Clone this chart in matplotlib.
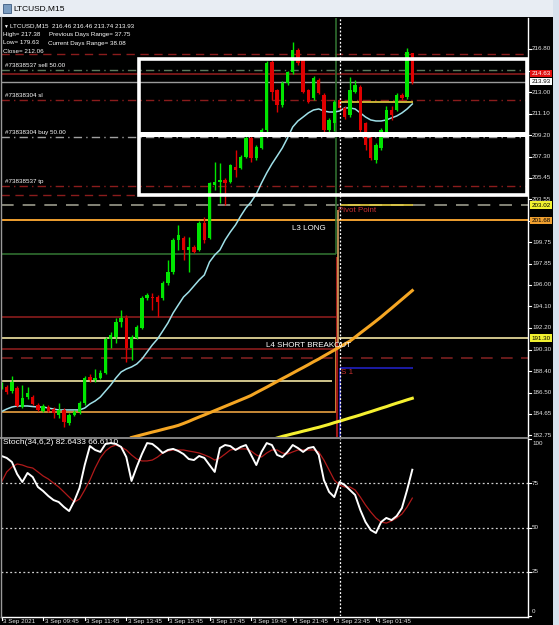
import matplotlib
matplotlib.use("Agg")
import matplotlib.pyplot as plt
from matplotlib.transforms import blended_transform_factory
from matplotlib.patches import Rectangle
from matplotlib.lines import Line2D

W, H, DPI = 559, 625, 100
FONT = "Liberation Sans"
plt.rcParams['font.family'] = [FONT, 'DejaVu Sans']

# ---------------- data ----------------
symbol = "LTCUSD,M15"
header_ohlc = ["216.46", "216.46", "213.74", "213.93"]
info_lines = ["High= 217.38", "Low= 179.63", "Close= 212.06"]
info_right = ["Previous Days Range= 37.75", "Current Days Range= 38.08"]

opens = [186.95, 186.99, 186.60, 186.91, 185.23, 186.11, 186.11, 185.41, 184.88, 185.23,
         185.05, 184.52, 184.97, 183.82, 184.52, 184.79, 185.58, 187.88, 187.61, 187.79,
         188.23, 191.23, 191.40, 192.73, 193.08, 190.43, 191.31, 192.20, 194.84, 194.93,
         194.93, 194.84, 196.17, 197.14, 199.96, 200.13, 199.08, 199.34, 199.08, 201.46,
         200.13, 204.81, 205.07, 205.25, 205.07, 206.39, 206.31, 207.28, 208.95, 207.19,
         208.07, 209.66, 215.65, 213.18, 211.86, 213.80, 214.77, 216.71, 215.83, 213.18,
         212.48, 214.07, 212.74, 209.66, 210.27, 212.30, 211.60, 210.98, 213.01, 213.45,
         210.27, 208.95, 207.01, 208.07, 209.48, 211.42, 211.42, 212.74, 212.57, 216.46]
highs = [187.45, 187.20, 187.95, 187.10, 187.17, 186.99, 186.30, 185.60, 185.50, 185.40,
         185.20, 185.60, 185.10, 184.70, 184.95, 185.75, 187.95, 188.10, 188.58, 188.50,
         191.40, 191.85, 193.08, 193.80, 193.30, 191.60, 192.50, 195.00, 195.30, 195.30,
         195.10, 196.30, 198.19, 200.10, 201.30, 200.30, 200.22, 199.50, 201.60, 202.00,
         205.10, 206.84, 206.75, 205.40, 206.70, 207.90, 207.45, 209.10, 209.10, 208.30,
         209.80, 215.70, 215.80, 213.30, 213.95, 214.90, 217.38, 216.85, 215.90, 213.30,
         214.40, 214.20, 212.90, 210.70, 212.30, 212.45, 211.75, 214.33, 214.07, 213.60,
         210.40, 209.10, 208.50, 209.80, 211.80, 211.80, 212.90, 212.90, 216.89, 216.46]
lows = [186.80, 186.40, 186.50, 185.20, 185.10, 185.90, 185.40, 184.85, 184.75, 184.80,
        184.26, 184.30, 183.47, 183.64, 184.40, 184.65, 185.45, 187.45, 187.43, 187.70,
        188.10, 190.43, 190.90, 192.29, 189.20, 189.35, 191.20, 192.10, 194.70, 193.80,
        193.17, 194.70, 195.95, 197.00, 199.10, 198.19, 197.14, 198.80, 198.95, 199.70,
        200.00, 204.40, 203.20, 203.04, 204.95, 205.50, 206.20, 207.15, 206.84, 207.05,
        207.95, 209.50, 212.30, 211.24, 211.70, 213.65, 214.60, 215.40, 212.90, 212.00,
        212.30, 212.80, 209.50, 209.50, 209.60, 211.45, 210.65, 210.80, 212.90, 209.50,
        207.90, 207.00, 206.75, 207.90, 209.30, 210.54, 211.30, 212.30, 212.40, 213.74]
closes = [187.25, 186.55, 187.43, 185.32, 186.02, 186.46, 185.50, 184.97, 185.32, 184.88,
          184.70, 184.97, 183.91, 184.52, 184.79, 185.58, 187.79, 187.61, 187.79, 188.23,
          191.23, 191.58, 192.73, 193.08, 190.43, 191.40, 192.29, 194.84, 195.11, 194.84,
          194.49, 196.17, 197.14, 199.96, 200.40, 199.08, 199.34, 198.90, 201.46, 199.96,
          204.98, 205.07, 205.25, 204.98, 206.57, 206.13, 207.28, 208.95, 207.19, 208.16,
          209.66, 215.57, 213.01, 211.86, 213.80, 214.77, 216.71, 215.57, 213.01, 212.13,
          214.24, 212.92, 209.66, 210.54, 212.13, 211.60, 210.80, 213.18, 213.63, 209.66,
          208.33, 207.19, 208.33, 209.66, 211.42, 210.98, 212.74, 212.48, 216.54, 213.93]

ma_fast = [184.83, 185.05, 185.23, 185.32, 185.32, 185.32, 185.27, 185.23, 185.23, 185.14,
           185.05, 184.97, 184.97, 184.97, 184.97, 184.97, 185.14, 185.50, 185.76, 186.11,
           186.64, 187.17, 187.79, 188.32, 188.58, 188.76, 189.02, 189.46, 190.08, 190.70,
           191.23, 191.93, 192.64, 193.52, 194.23, 194.93, 195.37, 195.90, 196.43, 196.87,
           198.02, 198.63, 199.08, 199.96, 200.66, 201.28, 202.07, 202.78, 203.31, 204.01,
           204.98, 205.87, 206.66, 207.36, 208.07, 208.95, 209.92, 210.45, 210.80, 211.16,
           211.42, 211.51, 211.33, 211.24, 211.24, 211.33, 211.60, 211.60, 211.51, 211.16,
           210.80, 210.54, 210.45, 210.45, 210.54, 210.72, 210.89, 211.16, 211.51, 211.95]
ma_mid_start = 25
ma_mid = [182.54, 182.66, 182.78, 182.90, 183.02, 183.13, 183.25, 183.37, 183.48, 183.61,
          183.78, 183.96, 184.16, 184.35, 184.53, 184.72, 184.91, 185.10, 185.29, 185.48,
          185.67, 185.86, 186.05, 186.25, 186.50, 186.74, 186.98, 187.23, 187.48, 187.73,
          187.97, 188.22, 188.47, 188.71, 188.96, 189.22, 189.46, 189.73, 189.99, 190.25,
          190.51, 190.78, 191.04, 191.39, 191.75, 192.10, 192.45, 192.81, 193.17, 193.56,
          193.94, 194.33, 194.72, 195.11, 195.50]
ma_slow_start = 53
ma_slow = [182.50, 182.64, 182.75, 182.87, 182.98, 183.10, 183.21, 183.33, 183.44, 183.57,
           183.70, 183.85, 183.98, 184.12, 184.26, 184.39, 184.53, 184.68, 184.82, 184.97,
           185.12, 185.26, 185.42, 185.57, 185.71, 185.86, 186.00]

stoch_main = [90.4, 89.3, 87.0, 80.2, 75.7, 80.8, 78.5, 72.9, 70.6, 67.8,
              65.5, 64.4, 61.6, 59.3, 65.0, 72.3, 85.3, 96.0, 93.8, 92.7,
              97.2, 97.7, 97.2, 95.5, 89.8, 76.3, 84.2, 91.5, 97.7, 97.2,
              94.9, 92.1, 93.8, 94.4, 93.2, 91.5, 88.7, 88.1, 90.4, 89.3,
              85.3, 81.4, 94.9, 96.6, 96.0, 93.8, 95.5, 96.6, 91.0, 85.3,
              92.7, 97.7, 96.6, 91.0, 89.8, 92.7, 96.6, 94.9, 92.7, 94.9,
              95.5, 91.0, 76.8, 70.1, 67.2, 75.7, 74.0, 71.2, 68.4, 59.9,
              53.1, 48.6, 46.9, 53.1, 55.4, 54.2, 56.5, 61.0, 71.2, 82.64]
stoch_signal = [75.7, 81.4, 84.2, 85.9, 85.3, 84.2, 83.6, 81.4, 79.1, 77.4,
                75.1, 72.9, 70.1, 67.2, 64.4, 66.1, 71.2, 76.8, 83.6, 89.3,
                93.2, 95.5, 96.6, 95.5, 93.8, 91.0, 88.7, 87.6, 87.6, 88.1,
                89.8, 92.1, 93.2, 93.8, 93.8, 93.8, 93.2, 92.7, 92.1, 91.0,
                89.8, 88.1, 89.3, 91.5, 93.8, 94.4, 94.4, 94.4, 93.2, 91.0,
                89.8, 92.1, 93.8, 93.8, 92.1, 91.5, 92.7, 93.8, 93.8, 93.8,
                93.8, 92.7, 88.1, 82.5, 76.8, 74.0, 72.9, 72.9, 71.2, 67.2,
                62.7, 58.8, 55.4, 53.1, 52.5, 53.7, 55.4, 57.6, 61.6, 66.61]
stoch_label = "Stoch(34,6,2) 82.6433 66.6110"

time_ticks = [0, 8, 16, 24, 32, 40, 48, 56, 64, 72]
time_labels = ["3 Sep 2021", "3 Sep 09:45", "3 Sep 11:45", "3 Sep 13:45", "3 Sep 15:45",
               "3 Sep 17:45", "3 Sep 19:45", "3 Sep 21:45", "3 Sep 23:45", "4 Sep 01:45"]
day_sep_bar = 65

price_ticks = [216.80, 214.90, 213.00, 211.10, 209.20, 207.30, 205.45, 203.55, 201.65,
               199.75, 197.85, 196.00, 194.10, 192.20, 190.30, 188.40, 186.50, 184.65, 182.75]
hidden_ticks = [214.90, 201.65]
stoch_levels = [25, 50, 75]
stoch_ticks = [100, 75, 50, 25, 0]

# horizontal levels (price)
sell_price, sell_label = 214.95, "#73838537 sell 50.00"
sl_price, sl_label = 212.30, "#73838304 sl"
buy_price, buy_label = 209.04, "#73838304 buy 50.00"
tp_price, tp_label = 204.72, "#73838537 tp"
ask_price, bid_price = 214.63, 213.93
sl2_price, tp2_price = 216.36, 203.93
pivot_gray = 203.02
l3_price = 201.68
green_box_bottom = 198.72
red_lvl_1, red_lvl_2, red_dash = 193.17, 190.35, 189.55
l4_price = 191.30
yellow_lvl = 187.52
orange_box_bottom = 184.79
pivot_price, r1_price, s1_price = 203.08, 212.15, 188.67
box_top, box_mid, box_bottom = 215.92, 209.30, 203.93

# ---------------- figure ----------------
fig = plt.figure(figsize=(W / DPI, H / DPI), dpi=DPI, facecolor="black")


def px_axes(x0, y0, x1, y1, z=0):
    a = fig.add_axes([x0 / W, 1 - y1 / H, (x1 - x0) / W, (y1 - y0) / H], zorder=z)
    a.set_facecolor("black")
    for s in a.spines.values():
        s.set_visible(False)
    a.set_xticks([])
    a.set_yticks([])
    return a


XL = (-0.1, 101.25)
ax = px_axes(1, 18, 528, 437)
ax.set_xlim(*XL)
ax.set_ylim(182.585, 219.53)

bull, bear = "#00e600", "#e00000"

# levels
dr = "#8a1c1c"
ax.axhline(sl2_price, color=dr, lw=1, ls=(0, (6, 4)))
ax.axhline(sell_price, color="#5d7a5d", lw=1, ls=(0, (6, 3, 1, 3)))
ax.axhline(ask_price, color=dr, lw=1.2)
ax.axhline(bid_price, color="#9a9a9a", lw=1)
ax.axhline(sl_price, color=dr, lw=1, ls=(0, (6, 3, 1, 3)))
ax.axhline(buy_price, color="#a0a0a0", lw=1, ls=(0, (6, 3, 1, 3)))
ax.axhline(tp_price, color=dr, lw=1, ls=(0, (6, 3, 1, 3)))
ax.axhline(tp2_price, color=dr, lw=1, ls=(0, (6, 4)))
ax.axhline(pivot_gray, color="#8e8e80", lw=1.3, ls=(0, (7, 5)))
ax.axhline(l3_price, color="#f0a030", lw=1.4)
ax.hlines(green_box_bottom, XL[0], 64.3, color="#2f6e2f", lw=1.2)
ax.vlines(64.3, green_box_bottom, 219.6, color="#2f6e2f", lw=1.2)
ax.hlines(red_lvl_1, XL[0], 64.5, color=dr, lw=1.2)
ax.axhline(l4_price, color="#f3e6a4", lw=1.2)
ax.hlines(red_lvl_2, XL[0], 64.3, color=dr, lw=1.2)
ax.axhline(red_dash, color="#7a2020", lw=1.2, ls=(0, (7, 5)))
ax.hlines(yellow_lvl, XL[0], 63.5, color="#f3e6a4", lw=1.2)
ax.hlines(orange_box_bottom, XL[0], 64.3, color="#e8a040", lw=1.2)
ax.vlines(64.3, orange_box_bottom, l4_price, color="#e8a040", lw=1.2)
ax.vlines(64.5, 182.585, 198.5, color="#a01818", lw=1.5)
ax.vlines(64.8, l4_price - 0.3, pivot_price - 0.5, color="#d4a060", lw=1.2)
ax.hlines(pivot_price, 65, 79.2, color="#e8d040", lw=1.2)
ax.hlines(r1_price, 65, 79.2, color="#e8d040", lw=1.2)
ax.hlines(s1_price, 65, 79.2, color="#2020c0", lw=1.2)
ax.vlines(65, 182.585, s1_price, color="#2020c0", lw=1.2)

# moving averages
ax.plot(range(ma_mid_start, ma_mid_start + len(ma_mid)), ma_mid, color="#f5a623", lw=2.2)
ax.plot(range(ma_slow_start, ma_slow_start + len(ma_slow)), ma_slow, color="#f5f030", lw=2.2)
ax.plot(range(len(ma_fast)), ma_fast, color="#9fe0e8", lw=1.1, zorder=4)

# candles
for i, (o, h, l, c) in enumerate(zip(opens, highs, lows, closes)):
    col = bull if c >= o else bear
    ax.vlines(i, l, h, color=col, lw=1, zorder=5)
    ax.bar(i, max(abs(c - o), 0.06), bottom=min(o, c), width=0.64, color=col, lw=0, zorder=5)

# white rectangle
ax.add_patch(Rectangle((26.4, box_bottom), 101.15 - 26.4, box_top - box_bottom, fill=False,
                       ec="white", lw=2.6, zorder=6))
ax.hlines(box_mid, 26.4, 101.15, color="white", lw=3.6, zorder=6)

# day separator
ax.axvline(day_sep_bar, color="white", lw=0.9, ls=(0, (1.5, 1.5)), zorder=7)

# texts inside main chart
tsz = 4.5
bsz = 5.8
ax.text(64.7, 202.55, "Pivot Point", color="#c83030", fontsize=bsz, va="center", zorder=8)
ax.text(55.9, 200.99, "L3 LONG", color="white", fontsize=bsz, va="center", zorder=8)
ax.text(50.8, 190.62, "L4 SHORT BREAKOUT", color="white", fontsize=bsz, va="center", zorder=8)
ax.text(65.3, 188.23, "S 1", color="#c83030", fontsize=bsz, va="center", zorder=8)
for pr, lab in [(sell_price, sell_label), (sl_price, sl_label), (buy_price, buy_label), (tp_price, tp_label)]:
    ax.text(0.7, pr + 0.38, lab, color="white", fontsize=tsz, va="center", zorder=8)

# ---------------- stochastic ----------------
sx = px_axes(1, 439, 528, 616)
sx.set_xlim(*XL)
sx.set_ylim(0, 100)
for lv in stoch_levels:
    sx.axhline(lv, color="#d0d0d0", lw=0.9, ls=(0, (1.5, 2)))
sx.axvline(day_sep_bar, color="white", lw=0.9, ls=(0, (1.5, 1.5)))
sx.plot(range(len(stoch_signal)), stoch_signal, color="#b01a1a", lw=0.9)
sx.plot(range(len(stoch_main)), stoch_main, color="white", lw=1.4)

# ---------------- overlay chrome ----------------
ov = fig.add_axes([0, 0, 1, 1], zorder=10)
ov.set_xlim(0, W)
ov.set_ylim(H, 0)
ov.axis("off")
ov.patch.set_alpha(0)

ov.add_patch(Rectangle((0, 0), W, 17, color="#e8edf3", lw=0))
ov.add_patch(Rectangle((3, 4), 8, 9, fc="#7a9cc0", ec="#3c5a80", lw=0.6))
ov.text(13, 9, symbol, color="black", fontsize=6.0, va="center")
ov.add_patch(Rectangle((553, 0), 6, H, color="#d8e2ee", lw=0))
ov.plot([528, 528], [18, 617], color="white", lw=1)
ov.plot([0, 528], [437.5, 437.5], color="#9a9a9a", lw=1.2)
ov.plot([1, 528], [616.5, 616.5], color="white", lw=1)
ov.plot([0.5, 0.5], [17, 617], color="#9a9a9a", lw=1)

# header info
ov.text(3, 26, "\u25bc", color="white", fontsize=3.5, va="center")
ov.text(10, 26, symbol + "  " + " ".join(header_ohlc), color="white", fontsize=tsz, va="center")
ov.text(3, 34.5, info_lines[0], color="white", fontsize=tsz, va="center")
ov.text(49, 34.5, info_right[0], color="white", fontsize=tsz, va="center")
ov.text(3, 43, info_lines[1], color="white", fontsize=tsz, va="center")
ov.text(48, 43, info_right[1], color="white", fontsize=tsz, va="center")
ov.text(3, 51.5, info_lines[2], color="white", fontsize=tsz, va="center")
ov.text(3, 443, stoch_label, color="white", fontsize=6.0, va="center")

# price axis labels
tr = blended_transform_factory(fig.transFigure, ax.transData)
for p in price_ticks:
    fig.add_artist(Line2D([528 / W, 531 / W], [p, p], transform=tr, color="white", lw=0.8))
    if p in hidden_ticks:
        continue
    fig.text(532 / W, p, f"{p:.2f}", transform=tr, color="#e4e4e4", fontsize=tsz,
             va="center", ha="left", zorder=11)


def tag(p, txt, fc, tc="black"):
    fig.text(531.5 / W, p, txt, transform=tr, color=tc, fontsize=tsz, va="center", ha="left",
             zorder=12, bbox=dict(boxstyle="square,pad=0.2", fc=fc, ec="none"))


tag(ask_price, f"{ask_price:.2f}", "#e01010", "white")
tag(bid_price, f"{bid_price:.2f}", "white", "black")
tag(pivot_gray, f"{pivot_gray:.2f}", "#f0f030", "black")
tag(l3_price, f"{l3_price:.2f}", "#f0a030", "black")
tag(l4_price, f"{l4_price:.2f}", "#f0f030", "black")

trs = blended_transform_factory(fig.transFigure, sx.transData)
for v in stoch_ticks:
    yy = min(max(v, 2.5), 97.5)
    fig.add_artist(Line2D([528 / W, 531 / W], [v, v], transform=trs, color="white", lw=0.8))
    fig.text(532 / W, yy, str(v), transform=trs, color="#e4e4e4", fontsize=tsz,
             va="center", ha="left", zorder=11)

trx = blended_transform_factory(sx.transData, fig.transFigure)
for b, lab in zip(time_ticks, time_labels):
    fig.add_artist(Line2D([b, b], [1 - 617 / H, 1 - 620 / H], transform=trx, color="white", lw=0.8))
    fig.text(b + 0.3, 1 - 621.5 / H, lab, transform=trx, color="#e4e4e4", fontsize=tsz,
             va="center", ha="left", zorder=11)

fig.savefig("out.png", dpi=DPI, facecolor="black")
